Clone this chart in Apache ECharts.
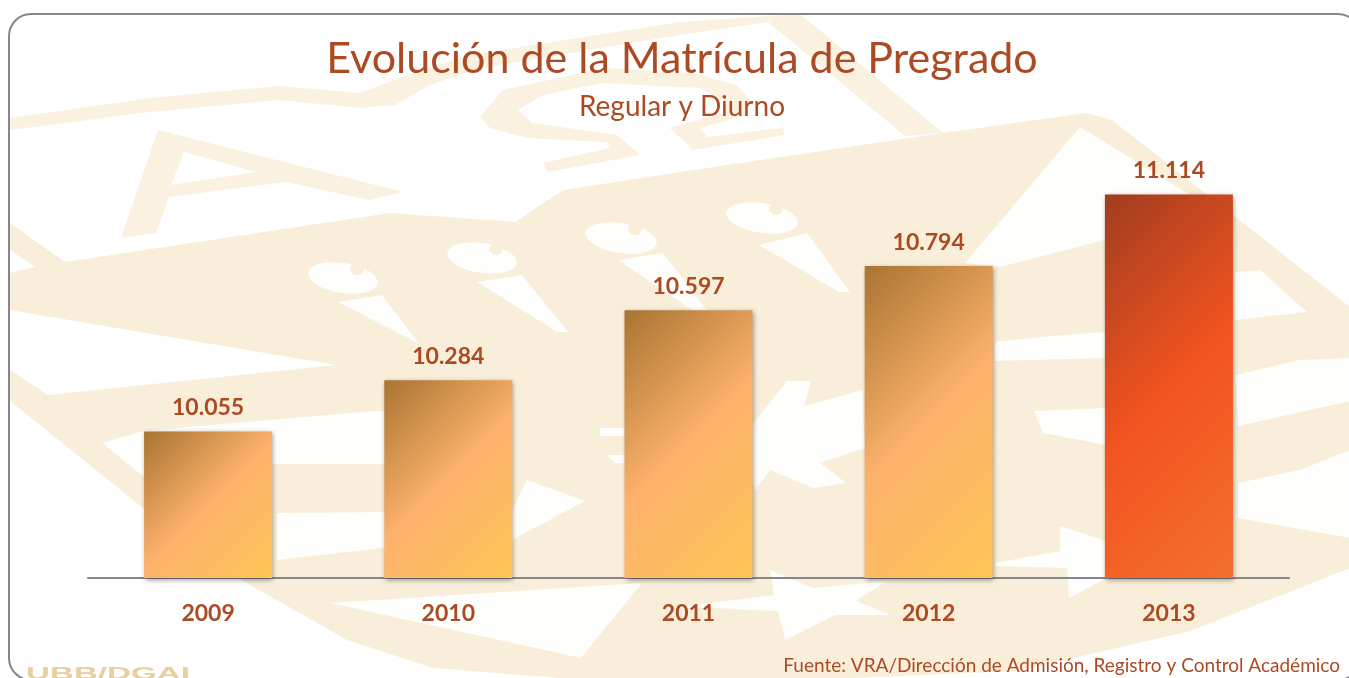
<!DOCTYPE html>
<html>
<head>
<meta charset="utf-8">
<title>Evolución de la Matrícula de Pregrado</title>
<style>
    html, body { margin: 0; padding: 0; background: #fff; }
    #chart { width: 1349px; height: 678px; }
</style>
<script src="https://cdn.jsdelivr.net/npm/echarts@6/dist/echarts.min.js"></script>
</head>
<body>
<div id="chart"></div>
<script>
const years = ['2009', '2010', '2011', '2012', '2013'];
const matricula = [10055, 10284, 10597, 10794, 11114];

const FONT = 'Lato';
const TEXT_COLOR = '#ab4a23';
const TAN = '#f9eeda';
const PALE = '#fbf1e1';
const BLANK = '#fefefd';
const BAR_WIDTH = 128;

// marca de agua del fondo: escudo claro, solo decoracion
const escudo = [[10, 223], [65, 262], [390, 213], [516, 222], [540, 205], [564, 190], [680, 172], [943, 133], [1086, 113], [1112, 120],
    [1350, 307], [1350, 568], [1190, 631], [1017, 671], [850, 678], [560, 678], [433, 668], [347, 640], [243, 581], [143, 508],
    [10, 401], [10, 370], [48, 395], [336, 365], [10, 310], [10, 273], [35, 267], [10, 250]];
const bandaSuperior = [[10, 118], [150, 98], [278, 86], [360, 93], [399, 78], [470, 55], [680, 22], [800, 14], [943, 133], [905, 136],
    [768, 22], [680, 35], [480, 68], [430, 85], [395, 105], [360, 108], [278, 100], [150, 112], [10, 130]];
const letraA = [[158, 130], [403, 192], [369, 200], [286, 182], [169, 197], [156, 233], [121, 238]];
const letraAHueco = [[184, 152], [256, 172], [171, 185]];
const letraOmega = [[480, 117], [503, 90], [603, 68], [693, 73], [737, 85], [750, 100], [747, 115], [700, 128], [707, 137], [783, 128],
    [785, 135], [693, 150], [670, 128], [723, 113], [727, 103], [700, 88], [603, 83], [543, 95], [518, 110], [532, 123],
    [617, 135], [640, 155], [548, 172], [543, 163], [610, 148], [607, 142], [527, 138], [490, 128]];

const huecos = [
    [[102, 443], [143, 431], [373, 411], [385, 411], [385, 464], [277, 464], [143, 476]],
    [[277, 513], [512, 511], [527, 480], [585, 501], [512, 540], [382, 548], [277, 560]],
    [[1080, 127], [1234, 222], [1104, 240], [1000, 267], [965, 263]],
    [[1235, 272], [1260, 270], [1307, 312], [1235, 320]],
    [[995, 342], [1050, 336], [1106, 332], [1106, 358], [995, 361]],
    [[1236, 375], [1299, 360], [1350, 358], [1350, 401], [1238, 426]],
    [[1238, 483], [1300, 470], [1350, 450], [1350, 538], [1238, 518]],
    // antorchas
    [[338, 302], [382, 295], [420, 345], [412, 340]],
    [[477, 282], [522, 275], [568, 332], [557, 332]],
    [[618, 260], [663, 253], [708, 312], [695, 312]],
    [[759, 245], [807, 233], [850, 292], [839, 292]],
    // estrellas
    [[787, 381], [811, 381], [804, 406], [863, 390], [863, 415], [865, 448], [820, 463], [846, 483], [813, 488], [770, 470], [755, 491], [740, 440]],
    [[600, 428], [625, 428], [625, 436], [600, 436]],
    [[607, 455], [625, 455], [625, 463], [615, 463]],
    [[1034, 411], [1106, 408], [1106, 445], [1043, 433]],
    [[670, 608], [774, 595], [770, 570], [813, 588], [887, 581], [856, 601], [891, 615], [835, 615], [785, 640], [778, 611], [713, 608]],
    [[1060, 526], [1106, 541], [1106, 578], [1069, 598], [1067, 568], [995, 566], [995, 563], [1060, 551]],
    [[330, 603], [642, 583], [581, 658]]
];
const llamas = [[343, 278, 35, 15], [482, 258, 35, 15], [621, 238, 36, 15], [762, 218, 36, 15]];

const poly = (points, fill) => ({type: 'polygon', shape: {points: points}, style: {fill: fill}, silent: true});
const ellipse = (x, y, rx, ry, fill) => ({
    type: 'ellipse',
    shape: {cx: 0, cy: 0, rx: rx, ry: ry},
    x: x, y: y, rotation: -0.15,
    style: {fill: fill},
    silent: true
});

const fondo = [
    poly(escudo, TAN),
    poly(bandaSuperior, PALE),
    poly(letraA, PALE),
    poly(letraAHueco, '#ffffff'),
    poly(letraOmega, PALE)
];
huecos.forEach(h => fondo.push(poly(h, BLANK)));
llamas.forEach(l => {
    fondo.push(ellipse(l[0], l[1], l[2], l[3], BLANK));
    // muesca de la llama
    fondo.push(ellipse(l[0] + 14, l[1] - 9, 7, 6, TAN));
});

// marco redondeado y sello inferior
fondo.push({
    type: 'rect',
    shape: {x: 9, y: 14, width: 1351, height: 666, r: 22},
    style: {fill: 'transparent', stroke: '#85868f', lineWidth: 2},
    silent: true
});
fondo.push({
    type: 'text',
    x: 26, y: 666, scaleX: 1.95,
    style: {text: 'UBB/DGAI', fill: '#e8cf9f', font: 'bold 17px "Liberation Sans"'},
    silent: true
});

// degradado a 45 grados en pixeles, sea cual sea el alto de la barra
const gradient = (height, a, b, c) => {
    const s = (BAR_WIDTH + height) / 2;
    return {
        type: 'linear', x: 0, y: 0, x2: s / BAR_WIDTH, y2: s / height,
        colorStops: [{offset: 0, color: a}, {offset: 0.5, color: b}, {offset: 1, color: c}]
    };
};

const barData = heights => matricula.map((value, i) => ({
    value: value,
    itemStyle: {
        color: i === matricula.length - 1
            ? gradient(heights[i], '#a03d20', '#f2531f', '#f3702e')
            : gradient(heights[i], '#a87431', '#fdb26c', '#ffc556')
    }
}));

const chart = echarts.init(document.getElementById('chart'), null, {renderer: 'canvas'});
chart.setOption({
    animation: false,
    backgroundColor: '#ffffff',
    title: [
        {
            text: 'Evolución de la Matrícula de Pregrado',
            left: 677, top: 33, textAlign: 'center',
            textStyle: {fontFamily: FONT, fontSize: 43, fontWeight: 'normal', color: TEXT_COLOR}
        },
        {
            text: 'Regular y Diurno',
            left: 677, top: 88, textAlign: 'center',
            textStyle: {fontFamily: FONT, fontSize: 28, fontWeight: 'normal', color: TEXT_COLOR}
        },
        {
            text: 'Fuente: VRA/Dirección de Admisión, Registro y Control Académico',
            left: 1335, top: 651, textAlign: 'right',
            textStyle: {fontFamily: FONT, fontSize: 19, fontWeight: 'normal', color: TEXT_COLOR}
        }
    ],
    graphic: fondo,
    grid: {left: 88, right: 60, top: 175.2, bottom: 100},
    xAxis: {
        type: 'category',
        data: years,
        axisLine: {lineStyle: {color: '#85868f', width: 2}},
        axisTick: {show: false},
        axisLabel: {margin: 24, fontFamily: FONT, fontSize: 23, fontWeight: 'bold', color: TEXT_COLOR}
    },
    yAxis: {type: 'value', min: 9400, max: 11200, show: false},
    series: [{
        type: 'bar',
        data: barData(matricula.map(() => 300)),
        barWidth: BAR_WIDTH,
        itemStyle: {shadowColor: 'rgba(0,0,0,0.4)', shadowBlur: 5, shadowOffsetX: 1, shadowOffsetY: 2},
        label: {
            show: true,
            position: 'top',
            distance: 12,
            fontFamily: FONT, fontSize: 23, fontWeight: 'bold', color: TEXT_COLOR,
            formatter: p => String(p.value).replace(/(\d)(\d{3})$/, '$1.$2')
        }
    }]
});

// con la escala ya montada se conoce el alto real de cada barra
const base = chart.convertToPixel({yAxisIndex: 0}, 9400);
const heights = matricula.map(v => base - chart.convertToPixel({yAxisIndex: 0}, v));
chart.setOption({series: [{data: barData(heights)}]});
</script>
</body>
</html>
